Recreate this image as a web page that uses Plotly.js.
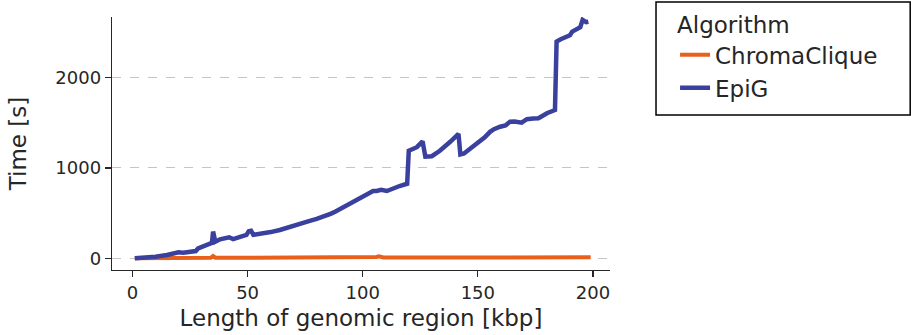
<!DOCTYPE html>
<html>
<head>
<meta charset="utf-8">
<script src="https://cdn.plot.ly/plotly-3.0.1.min.js"></script>
<style>
  html, body { margin: 0; padding: 0; background: #ffffff; }
  #chart { width: 911px; height: 335px; }
</style>
</head>
<body>
<div id="chart"></div>
<script>
// Runtime (s) versus length of the genomic region (kbp), per algorithm
const algorithmNames = ["ChromaClique", "EpiG"];

const chromaX = [1, 10, 20, 30, 34, 35, 36, 50, 60, 66, 67, 80, 100, 106, 107, 108, 109, 120, 135, 150, 157, 158, 170, 184, 185, 186, 199];
const chromaY = [0, 2, 3, 4, 5, 25, 6, 5, 6, 12, 6, 6, 7, 15, 22, 14, 8, 8, 9, 9, 13, 9, 9, 10, 16, 10, 10];

const epigX = [1, 5, 10, 15, 18, 20, 22, 25, 27.5, 28.5, 31, 33.5, 34.5, 35, 35.5, 36, 38, 40, 42, 43.7,
  46, 49.5, 50.5, 51.5, 52.5, 56, 60, 64, 68, 71, 74, 77, 80, 83, 86, 88, 91, 94, 96, 99,
  102, 104.5, 106, 108, 110.5, 113, 116, 119.3, 120, 123.5, 126, 127.2, 130, 133.5, 136, 138, 141.6, 142.4, 144, 147,
  151, 153, 155.3, 157, 159.7, 162, 164, 166, 169, 171.3, 174, 176.3, 178, 180, 183.5, 184.2, 186, 188.7, 190, 191,
  193, 194.5, 195.5, 197, 198];
const epigY = [0, 5, 18, 36, 52, 66, 62, 75, 80, 110, 130, 155, 170, 295, 200, 184, 210, 225, 232, 212,
  230, 258, 300, 305, 260, 270, 290, 313, 345, 378, 395, 413, 435, 460, 492, 516, 560, 600, 627, 665,
  710, 745, 745, 758, 745, 775, 800, 825, 1190, 1230, 1295, 1125, 1130, 1190, 1240, 1290, 1378, 1150, 1160, 1215,
  1290, 1340, 1400, 1430, 1457, 1470, 1513, 1515, 1502, 1540, 1548, 1550, 1575, 1606, 1642, 2400, 2425, 2454, 2470, 2510,
  2547, 2560, 2640, 2615, 2620];

const xTickVals = [0, 50, 100, 150, 200];
const yTickVals = [0, 1000, 2000];

const ink = "#262626";
const font = "DejaVu Sans, sans-serif";

const traces = [
  {
    x: chromaX, y: chromaY, name: algorithmNames[0], type: "scatter", mode: "lines",
    line: { color: "#e8601c", width: 4 }
  },
  {
    x: epigX, y: epigY, name: algorithmNames[1], type: "scatter", mode: "lines",
    line: { color: "#3a409e", width: 4.5 }
  }
];

const layout = {
  width: 911, height: 335,
  margin: { l: 112, r: 301, t: 17, b: 65, pad: 0, autoexpand: false },
  paper_bgcolor: "#ffffff", plot_bgcolor: "#ffffff",
  font: { family: font, color: ink, size: 18 },
  showlegend: true,
  xaxis: {
    range: [-8.9, 207.4],
    tickvals: xTickVals,
    ticks: "outside", ticklen: 6, tickwidth: 1.2, tickcolor: ink,
    showline: true, linecolor: ink, linewidth: 1.3,
    showgrid: false, zeroline: false, automargin: false,
    tickfont: { size: 18, family: font, color: ink },
    title: { text: "Length of genomic region [kbp]", font: { size: 23, family: font, color: ink }, standoff: 8 }
  },
  yaxis: {
    range: [-130, 2672],
    tickvals: yTickVals,
    ticks: "outside", ticklen: 6, tickwidth: 1.2, tickcolor: ink,
    showline: true, linecolor: ink, linewidth: 1.3,
    showgrid: true, gridcolor: "#c4c4c4", gridwidth: 1, griddash: "dash",
    zeroline: false, automargin: false,
    tickfont: { size: 18, family: font, color: ink },
    title: { text: "Time [s]", font: { size: 23, family: font, color: ink }, standoff: 22 }
  },
  legend: {
    xref: "container", yref: "container",
    x: 0.7410, y: 0.9896, xanchor: "left", yanchor: "top",
    bgcolor: "rgba(0,0,0,0)", borderwidth: 0,
    font: { size: 23, family: font, color: ink },
    title: { text: "Algorithm", font: { size: 23, family: font, color: ink } },
    itemclick: false
  },
  shapes: [
    {
      type: "rect", xref: "paper", yref: "paper",
      x0: 1.0924, x1: 1.6028, y0: 0.6126, y1: 1.0593,
      line: { color: "#000000", width: 1.5 }, fillcolor: "rgba(0,0,0,0)"
    }
  ]
};

Plotly.newPlot("chart", traces, layout, { staticPlot: true, displayModeBar: false });
</script>
</body>
</html>
